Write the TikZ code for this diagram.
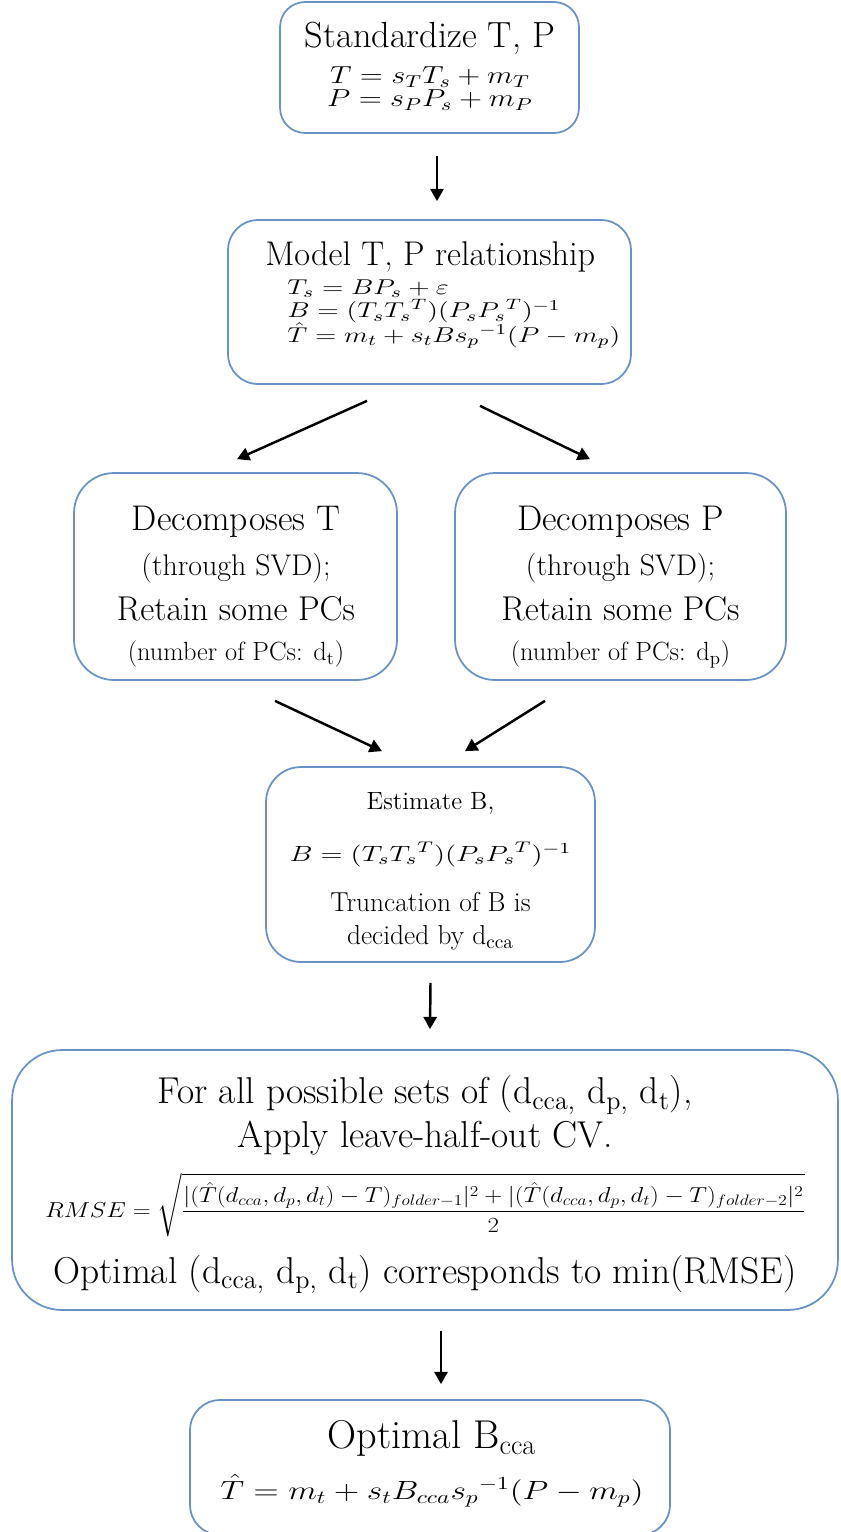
\RequirePackage{fix-cm}
\documentclass[tikz,border=0pt]{standalone}
\usepackage{amsmath}
\usepackage{graphicx}
\usetikzlibrary{arrows.meta,calc}

\definecolor{boxblue}{RGB}{104,146,200}
% math of the slide is set a bit wider than normal
\newcommand{\widemath}[2][1.3]{\scalebox{#1}[1]{$#2$}}
\lineskiplimit=-\maxdimen

\tikzset{
  box/.style={draw=boxblue, line width=1pt, rounded corners=#1, inner sep=0pt},
  box/.default=0.6cm,
  txt/.style={align=center, inner sep=0pt},
  arr/.style={line width=1.4pt, -{Triangle[length=7pt,width=7.5pt]}},
}

\begin{document}
\begin{tikzpicture}[x=0.02cm, y=-0.02cm]
	\useasboundingbox (0,0) rectangle (840,1532);
	
	% boxes
	\node[box=0.5cm, minimum width=5.98cm, minimum height=2.62cm] (std) at (429.5,67.5) {};
	\node[box=0.6cm, minimum width=8.06cm, minimum height=3.28cm] (model) at (429.5,302) {};
	\node[box=0.8cm, minimum width=6.46cm, minimum height=4.14cm] (decT) at (235.5,576.5) {};
	\node[box=0.8cm, minimum width=6.62cm, minimum height=4.14cm] (decP) at (620.5,576.5) {};
	\node[box=0.7cm, minimum width=6.58cm, minimum height=3.9cm] (est) at (430.5,864.5) {};
	\node[box=1cm, minimum width=16.52cm, minimum height=5.2cm] (cv) at (425,1180) {};
	\node[box=0.6cm, minimum width=9.6cm, minimum height=2.7cm] (opt) at (430,1467.5) {};
	
	% texts
	\node[txt, anchor=north, font=\fontsize{14}{0}\selectfont] (stdtext) at (430,22)
	{{\fontsize{20.7}{0}\selectfont Standardize T, P}\\[20.5pt]
	 \widemath[1.23]{T = s_T T_s + m_T}\\[13.1pt]
	 \widemath[1.23]{P = s_P P_s + m_P}};
	\node[txt, align=left, anchor=north west, font=\fontsize{12.2}{0}\selectfont] (modeltext) at (265,241)
	{{\fontsize{19.5}{0}\selectfont Model T, P relationship}\\[16.5pt]
	 \hspace*{12.5pt}\widemath[1.31]{T_s = BP_s + \varepsilon}\\[13.5pt]
	 \hspace*{12.5pt}\widemath[1.31]{B = (T_s{T_s}^T)(P_s{P_s}^T)^{-1}}\\[14pt]
	 \hspace*{12.5pt}\widemath[1.31]{\hat{T} = m_t + s_t B{s_p}^{-1}(P - m_p)}};
	\node[txt, anchor=north, font=\fontsize{15}{0}\selectfont] (decTtext) at (236,506)
	{{\fontsize{20.3}{0}\selectfont Decomposes T}\\[25.6pt]
	 {\fontsize{17}{0}\selectfont (through SVD);}\\[25.6pt]
	 {\fontsize{19.6}{0}\selectfont Retain some PCs}\\[22.8pt]
	 (number of PCs: d\textsubscript{t})};
	\node[txt, anchor=north, font=\fontsize{15}{0}\selectfont] (decPtext) at (620.5,506)
	{{\fontsize{20.3}{0}\selectfont Decomposes P}\\[25.6pt]
	 {\fontsize{17}{0}\selectfont (through SVD);}\\[25.6pt]
	 {\fontsize{19.6}{0}\selectfont Retain some PCs}\\[22.8pt]
	 (number of PCs: d\textsubscript{p})};
	\node[txt, anchor=north, font=\fontsize{15.6}{0}\selectfont] (esttext) at (430.5,792)
	{{\fontsize{14.2}{0}\selectfont Estimate B,}\\[29.6pt]
	 {\fontsize{12.5}{0}\selectfont\widemath[1.32]{B = (T_s{T_s}^T)(P_s{P_s}^T)^{-1}}}\\[28.5pt]
	 Truncation of B is\\[18.8pt]
	 decided by d\textsubscript{cca}};
	\node[txt, anchor=north, font=\fontsize{21.3}{0}\selectfont] (cvtext) at (425,1075)
	{For all possible sets of (d\textsubscript{cca,} d\textsubscript{p,} d\textsubscript{t}),\\[25pt]
	 Apply leave-half-out CV.\\[39.8pt]
	 \resizebox*{15.2cm}{1.28cm}{$\displaystyle RMSE=\sqrt{\frac{|(\hat{T}(d_{cca},d_p,d_t)-T)_{folder-1}|^2+|(\hat{T}(d_{cca},d_p,d_t)-T)_{folder-2}|^2}{2}}$}\\[37.6pt]
	 Optimal (d\textsubscript{cca,} d\textsubscript{p,} d\textsubscript{t}) corresponds to min(RMSE)};
	\node[txt, anchor=north, font=\fontsize{22.9}{0}\selectfont] (opttext) at (432,1420)
	{Optimal B\textsubscript{cca}\\[29pt]
	 {\fontsize{15}{0}\selectfont\widemath[1.27]{\hat{T} = m_t + s_t B_{cca}{s_p}^{-1}(P - m_p)}}};
	
	% arrows
	\draw[arr] ($(std.south)+(7.5,22)$) -- ($(model.north)+(7.5,-18)$);
	\draw[arr] ($(model.south)+(-62.5,16)$) -- ($(decT.north)+(1.5,-13)$);
	\draw[arr] ($(model.south)+(50.5,21)$) -- ($(decP.north)+(-30.5,-13)$);
	\draw[arr] ($(decT.south)+(39.5,20)$) -- ($(est.north)+(-48.5,-15)$);
	\draw[arr] ($(decP.south)+(-75.5,20)$) -- ($(est.north)+(34.5,-15)$);
	\draw[arr] ($(est.south)+(0,20)$) -- ($(cv.north)+(5,-20)$);
	\draw[arr] ($(cv.south)+(16,20)$) -- ($(opt.north)+(11,-15)$);
\end{tikzpicture}
\end{document}
